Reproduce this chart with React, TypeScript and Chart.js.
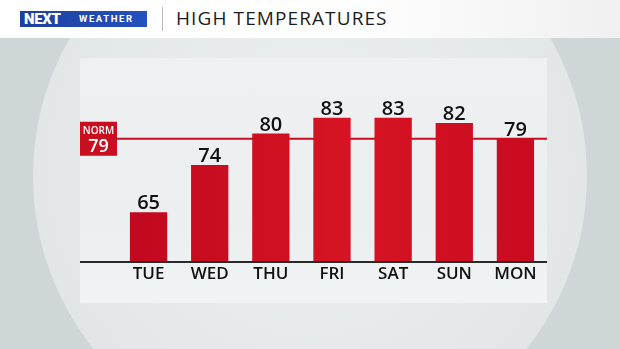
import React, { useEffect, useRef } from "react";
import { Chart, registerables } from "chart.js";

Chart.register(...registerables);

const DAYS = ["TUE", "WED", "THU", "FRI", "SAT", "SUN", "MON"];
const HIGHS = [65, 74, 80, 83, 83, 82, 79];
const NORMAL_HIGH = 79;
const NORMAL_LABEL = "NORM";
const Y_MIN = 55.5;
const Y_MAX = 94.4;
const TITLE = "HIGH TEMPERATURES";
const BRAND_A = "NEXT";
const BRAND_B = "WEATHER";

const FONT = "'Open Sans', 'DejaVu Sans', sans-serif";
const RED = "#c80f20";

const overlayPlugin = {
  id: "overlay",
  beforeDatasetsDraw(chart: any) {
    const { ctx, chartArea, scales } = chart;
    const y = scales.y.getPixelForValue(NORMAL_HIGH);
    const panelLeft = chartArea.left - 38;
    const panelRight = chartArea.right + 1;
    ctx.save();
    ctx.strokeStyle = RED;
    ctx.lineWidth = 2;
    ctx.beginPath();
    ctx.moveTo(panelLeft + 37, y);
    ctx.lineTo(panelRight, y);
    ctx.stroke();
    ctx.restore();
  },
  afterDatasetsDraw(chart: any) {
    const { ctx, chartArea, scales } = chart;
    const panelLeft = chartArea.left - 38;
    const panelRight = chartArea.right + 1;
    ctx.save();
    // baseline
    ctx.strokeStyle = "#2a2a2a";
    ctx.lineWidth = 2;
    ctx.beginPath();
    ctx.moveTo(panelLeft, chartArea.bottom);
    ctx.lineTo(panelRight, chartArea.bottom);
    ctx.stroke();

    // value labels
    const meta = chart.getDatasetMeta(0);
    ctx.fillStyle = "#111111";
    ctx.font = `600 20px ${FONT}`;
    ctx.textAlign = "center";
    ctx.textBaseline = "alphabetic";
    meta.data.forEach((bar: any, i: number) => {
      ctx.fillText(String(HIGHS[i]), bar.x, bar.y - 3);
    });

    // norm box
    const y = scales.y.getPixelForValue(NORMAL_HIGH);
    const bw = 37;
    const bh = 34;
    ctx.fillStyle = RED;
    ctx.fillRect(panelLeft, y - bh / 2, bw, bh);
    ctx.fillStyle = "#ffffff";
    ctx.font = `600 10px ${FONT}`;
    ctx.fillText(NORMAL_LABEL, panelLeft + bw / 2, y - 5);
    ctx.font = `600 18px ${FONT}`;
    ctx.fillText(String(NORMAL_HIGH), panelLeft + bw / 2, y + 13);
    ctx.restore();
  },
};

export default function App() {
  const canvasRef = useRef<HTMLCanvasElement | null>(null);

  useEffect(() => {
    const canvas = canvasRef.current;
    if (!canvas) return;
    const chart = new Chart(canvas, {
      type: "bar",
      data: {
        labels: DAYS,
        datasets: [
          {
            data: HIGHS,
            backgroundColor: (c: any) => {
              const { ctx, chartArea } = c.chart;
              if (!chartArea) return RED;
              const g = ctx.createLinearGradient(chartArea.left, 0, chartArea.right, 0);
              g.addColorStop(0, "#c0081f");
              g.addColorStop(0.55, "#d61423");
              g.addColorStop(1, "#c80a20");
              return g;
            },
            borderWidth: 0,
            barPercentage: 0.61,
            categoryPercentage: 1,
          },
        ],
      },
      options: {
        responsive: false,
        maintainAspectRatio: false,
        animation: false,
        layout: { padding: { left: 118, right: 74, top: 58, bottom: 47 } },
        plugins: { legend: { display: false }, tooltip: { enabled: false } },
        scales: {
          x: {
            grid: { display: false, drawTicks: false },
            border: { display: false },
            ticks: {
              color: "#111111",
              font: { family: FONT, size: 17, weight: "600" },
              padding: 2,
              maxRotation: 0,
            },
            afterFit: (scale: any) => {
              scale.height = 40;
            },
          },
          y: { display: false, min: Y_MIN, max: Y_MAX },
        },
      },
      plugins: [overlayPlugin],
    } as any);
    return () => chart.destroy();
  }, []);

  return (
    <div
      style={{
        position: "absolute",
        left: 0,
        top: 0,
        width: 620,
        height: 349,
        overflow: "hidden",
        background: "#cfd6d7",
        fontFamily: FONT,
      }}
    >
      <div
        style={{
          position: "absolute",
          left: 33,
          top: -101,
          width: 554,
          height: 554,
          borderRadius: "50%",
          background:
            "radial-gradient(circle at 50% 48%, #eceeef 0%, #e6e9ea 55%, #dce1e2 90%, #e6e9ea 97%, #d7dddd 100%)",
        }}
      />
      <div
        style={{
          position: "absolute",
          left: 80,
          top: 58,
          width: 467,
          height: 245,
          background: "linear-gradient(to bottom, #eef0f1, #eceff0 70%, #f1f3f4)",
        }}
      />
      <div
        style={{
          position: "absolute",
          left: 0,
          top: 0,
          width: 620,
          height: 38,
          background: "linear-gradient(to right, #ffffff 55%, #f0f0f0)",
        }}
      />
      <div
        style={{
          position: "absolute",
          left: 20,
          top: 11,
          width: 127,
          height: 16,
          background: "linear-gradient(to right, #1d3f9f, #2452bf)",
          color: "#ffffff",
          whiteSpace: "nowrap",
        }}
      >
        <span
          style={{
            position: "absolute",
            left: 4,
            top: 0,
            fontFamily: "Roboto, sans-serif",
            fontWeight: 900,
            fontSize: 15,
            lineHeight: "16px",
            letterSpacing: "-0.3px",
          }}
        >
          {BRAND_A}
        </span>
        <span
          style={{
            position: "absolute",
            left: 59,
            top: 0,
            fontFamily: "Roboto, sans-serif",
            fontWeight: 700,
            fontSize: 9.5,
            lineHeight: "16px",
            letterSpacing: "1.6px",
          }}
        >
          {BRAND_B}
        </span>
      </div>
      <div
        style={{
          position: "absolute",
          left: 162,
          top: 7,
          width: 1,
          height: 24,
          background: "#b9b9b9",
        }}
      />
      <div
        style={{
          position: "absolute",
          left: 176,
          top: 9,
          fontSize: 19,
          lineHeight: "19px",
          fontWeight: 500,
          color: "#1c1c1c",
          letterSpacing: "1.1px",
          whiteSpace: "nowrap",
        }}
      >
        {TITLE}
      </div>
      <canvas
        ref={canvasRef}
        width={620}
        height={349}
        style={{ position: "absolute", left: 0, top: 0 }}
      />
    </div>
  );
}
